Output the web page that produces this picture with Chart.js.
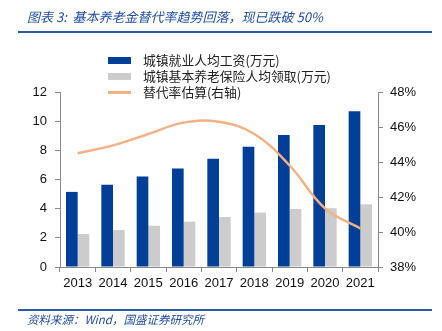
<!DOCTYPE html>
<html>
<head>
<meta charset="utf-8">
<script src="https://cdn.jsdelivr.net/npm/chart.js"></script>
<style>
  html, body { margin: 0; padding: 0; background: #fff; }
  #wrap { position: relative; width: 442px; height: 331px; overflow: hidden; }
  #c { position: absolute; left: 0; top: 0; }
  .title { position: absolute; left: 27px; top: 7px; font: italic 13px "Noto Sans CJK SC", sans-serif; color: #1F4E9F; white-space: nowrap; }
  .rule { position: absolute; left: 18px; width: 414px; background: #2A5CAA; }
  .source { position: absolute; left: 27px; top: 311px; font: italic 11.5px "Noto Sans CJK SC", sans-serif; color: #1F4E9F; white-space: nowrap; }
  .legend { position: absolute; left: 108px; top: 52px; font: 12.8px "Noto Sans CJK SC", sans-serif; color: #222; }
  .legend div { height: 16px; line-height: 16px; display: flex; align-items: center; white-space: nowrap; }
  .legend i { display: inline-block; width: 23px; margin-right: 12px; }
</style>
</head>
<body>
<div id="wrap">
  <canvas id="c" width="442" height="331"></canvas>
  <div class="title">图表 3:&nbsp; 基本养老金替代率趋势回落，现已跌破 50%</div>
  <div class="rule" style="top:31px;height:2px"></div>
  <div class="legend">
    <div><i style="height:7px;background:#003F97"></i>城镇就业人均工资(万元)</div>
    <div><i style="height:7px;background:#CCCCCC"></i>城镇基本养老保险人均领取(万元)</div>
    <div><i style="height:3px;background:#F4B183"></i>替代率估算(右轴)</div>
  </div>
  <div class="rule" style="top:309px;height:1.5px"></div>
  <div class="source">资料来源：Wind，国盛证券研究所</div>
</div>
<script>
const years = ['2013', '2014', '2015', '2016', '2017', '2018', '2019', '2020', '2021'];
const wage = [5.15, 5.64, 6.20, 6.76, 7.43, 8.24, 9.05, 9.74, 10.68];
const pension = [2.26, 2.54, 2.83, 3.11, 3.43, 3.73, 3.98, 4.03, 4.30];
const replaceRate = [44.5, 44.95, 45.6, 46.25, 46.3, 45.6, 43.8, 41.35, 40.2];

const tickFont = { family: '"Liberation Sans", Arial, sans-serif', size: 13 };
const axisGrid = { drawOnChartArea: false, drawTicks: true, tickLength: 5, color: '#888' };
const axisBorder = { display: true, color: '#888', width: 1 };

new Chart(document.getElementById('c'), {
  data: {
    labels: years,
    datasets: [
      {
        type: 'line', label: '替代率估算(右轴)', data: replaceRate, yAxisID: 'y1',
        borderColor: '#F4B183', borderWidth: 2.5, pointRadius: 0, tension: 0.4, order: 0
      },
      {
        type: 'bar', label: '城镇就业人均工资(万元)', data: wage, yAxisID: 'y',
        backgroundColor: '#003F97', barPercentage: 1, categoryPercentage: 0.66, order: 1
      },
      {
        type: 'bar', label: '城镇基本养老保险人均领取(万元)', data: pension, yAxisID: 'y',
        backgroundColor: '#CCCCCC', barPercentage: 1, categoryPercentage: 0.66, order: 1
      }
    ]
  },
  options: {
    responsive: false,
    animation: false,
    layout: { padding: { top: 92, left: 0, right: 0, bottom: 0 } },
    plugins: { legend: { display: false }, tooltip: { enabled: false } },
    scales: {
      x: {
        offset: true,
        grid: { ...axisGrid, offset: true },
        border: axisBorder,
        ticks: { color: '#111', font: tickFont, padding: 4, maxRotation: 0 },
        afterFit: s => { s.height = 64; }
      },
      y: {
        position: 'left', min: 0, max: 12,
        grid: axisGrid, border: axisBorder,
        ticks: { stepSize: 2, color: '#111', font: tickFont, padding: 8 },
        afterFit: s => { s.width = 60; }
      },
      y1: {
        position: 'right', min: 38, max: 48,
        grid: axisGrid, border: axisBorder,
        ticks: { stepSize: 2, color: '#111', font: tickFont, padding: 7, callback: v => v + '%' },
        afterFit: s => { s.width = 64; }
      }
    }
  }
});
</script>
</body>
</html>
